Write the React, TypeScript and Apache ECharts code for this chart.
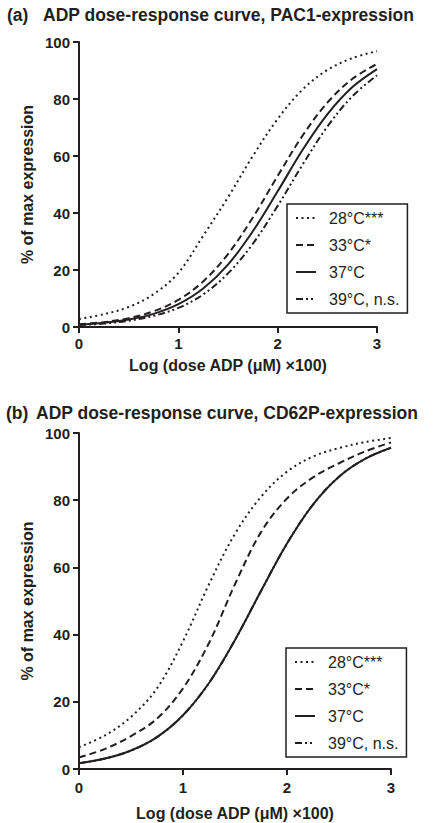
import React, { useEffect, useRef } from 'react';
import * as echarts from 'echarts';

// x positions: log(dose ADP (µM) x100)
const doses = [0, 0.25, 0.5, 0.75, 1, 1.25, 1.5, 1.75, 2, 2.25, 2.5, 2.75, 3];
const legendNames = ['28°C***', '33°C*', '37°C', '39°C, n.s.'];
const yTicksMax = 100;
const xTicksMax = 3;

// (a) PAC1-expression, % of max expression
const pac1_28 = [2.8, 4.5, 7.0, 11.5, 19.0, 32.0, 45.5, 60.0, 73.0, 83.3, 90.2, 94.3, 96.8];
const pac1_33 = [1.0, 1.7, 3.1, 5.5, 9.5, 16.0, 25.6, 38.4, 53.0, 67.1, 78.7, 87.0, 92.3];
const pac1_37 = [0.8, 1.5, 2.6, 4.6, 8.0, 13.5, 21.9, 33.6, 47.6, 62.1, 74.6, 84.1, 90.5];
const pac1_39 = [0.7, 1.2, 2.2, 3.9, 6.7, 11.4, 18.8, 29.2, 42.5, 56.9, 70.3, 80.9, 88.3];

// (b) CD62P-expression, % of max expression
const cd62p_28 = [6.5, 10.0, 15.5, 24.0, 38.0, 55.0, 70.0, 81.0, 88.5, 93.0, 95.5, 97.3, 98.5];
const cd62p_33 = [3.4, 6.0, 9.8, 15.0, 24.0, 37.5, 55.0, 70.5, 80.5, 86.8, 91.0, 94.5, 97.2];
const cd62p_37 = [1.7, 3.1, 5.5, 9.5, 16.0, 25.6, 38.4, 53.0, 67.1, 78.7, 87.0, 92.3, 95.6];
const cd62p_39 = [1.7, 3.1, 5.5, 9.5, 16.0, 25.6, 38.4, 53.0, 67.1, 78.7, 87.0, 92.3, 95.6];

const INK = '#231f20';
const FONT = '"Liberation Sans", Arial, Helvetica, sans-serif';

const lineTypes: any[] = [[2, 3.5], [7, 4], 'solid', [7, 3, 2, 3, 2, 3]];

function mkSeries(name: string, values: number[], gi: number, ti: number, z: number) {
  return {
    type: 'line',
    name,
    xAxisIndex: gi,
    yAxisIndex: gi,
    data: values.map((v, i) => [doses[i], v]),
    symbol: 'none',
    smooth: 0.35,
    z,
    lineStyle: { color: INK, width: 2, type: lineTypes[ti], cap: 'butt' },
    itemStyle: { color: INK, opacity: 0 },
    emphasis: { disabled: true },
  };
}

function mkX(gi: number, labelMargin: number, nameGap: number) {
  return {
    type: 'value',
    gridIndex: gi,
    min: 0,
    max: xTicksMax,
    interval: 1,
    name: 'Log (dose ADP (μM) ×100)',
    nameLocation: 'middle',
    nameGap,
    nameMoveOverlap: false,
    nameTextStyle: { fontFamily: FONT, fontWeight: 'bold', fontSize: 16, color: INK },
    axisLine: { show: true, onZero: false, lineStyle: { color: INK, width: 2 } },
    axisTick: { show: true, inside: false, length: 6, lineStyle: { color: INK, width: 2 } },
    axisLabel: { margin: labelMargin, fontFamily: FONT, fontWeight: 'bold', fontSize: 15, color: INK },
    splitLine: { show: false },
  };
}

function mkY(gi: number) {
  return {
    type: 'value',
    gridIndex: gi,
    min: 0,
    max: yTicksMax,
    interval: 20,
    name: '% of max expression',
    nameLocation: 'middle',
    nameGap: 44,
    nameMoveOverlap: false,
    nameTextStyle: { fontFamily: FONT, fontWeight: 'bold', fontSize: 16, color: INK },
    axisLine: { show: true, onZero: false, lineStyle: { color: INK, width: 2 } },
    axisTick: { show: true, inside: false, length: 6, lineStyle: { color: INK, width: 2 } },
    axisLabel: { margin: 9, fontFamily: FONT, fontWeight: 'bold', fontSize: 15, color: INK },
    splitLine: { show: false },
  };
}

function mkLegend(left: number, top: number) {
  return {
    data: legendNames,
    orient: 'vertical',
    left,
    top,
    selectedMode: false,
    borderColor: INK,
    borderWidth: 1.5,
    borderRadius: 0,
    padding: [6, 8, 6, 8],
    itemWidth: 20,
    itemHeight: 14,
    itemGap: 11,
    itemStyle: { opacity: 0, borderWidth: 0 },
    lineStyle: { width: 2 },
    textStyle: { fontFamily: FONT, fontSize: 16, color: INK, lineHeight: 14, padding: [0, 0, 0, 8] },
  };
}

const titleStyle = { fontFamily: FONT, fontWeight: 'bold', fontSize: 17.5, color: INK };

const option: any = {
  animation: false,
  backgroundColor: '#ffffff',
  title: [
    { text: '(a)', left: 7, top: 6, padding: 0, textStyle: titleStyle },
    { text: 'ADP dose-response curve, PAC1-expression', left: 43, top: 6, padding: 0, textStyle: titleStyle },
    { text: '(b)', left: 6, top: 404, padding: 0, textStyle: titleStyle },
    { text: 'ADP dose-response curve, CD62P-expression', left: 36, top: 404, padding: 0, textStyle: titleStyle },
  ],
  grid: [
    { left: 79, top: 42, width: 298, height: 285, containLabel: false, outerBoundsMode: 'none' },
    { left: 79, top: 433, width: 312, height: 336, containLabel: false, outerBoundsMode: 'none' },
  ],
  xAxis: [mkX(0, 9, 30), mkX(1, 11, 36)],
  yAxis: [mkY(0), mkY(1)],
  legend: [mkLegend(287, 204), mkLegend(286, 648)],
  series: [
    mkSeries(legendNames[0], pac1_28, 0, 0, 3),
    mkSeries(legendNames[1], pac1_33, 0, 1, 3),
    mkSeries(legendNames[2], pac1_37, 0, 2, 3),
    mkSeries(legendNames[3], pac1_39, 0, 3, 3),
    mkSeries(legendNames[0], cd62p_28, 1, 0, 3),
    mkSeries(legendNames[1], cd62p_33, 1, 1, 3),
    mkSeries(legendNames[3], cd62p_39, 1, 3, 2),
    mkSeries(legendNames[2], cd62p_37, 1, 2, 4),
  ],
};

export default function App() {
  const ref = useRef<HTMLDivElement>(null);
  useEffect(() => {
    document.body.style.margin = '0';
    const chart = echarts.init(ref.current as HTMLDivElement, null, { renderer: 'svg' });
    chart.setOption(option);
    return () => chart.dispose();
  }, []);
  return <div ref={ref} style={{ width: 436, height: 823 }} />;
}
